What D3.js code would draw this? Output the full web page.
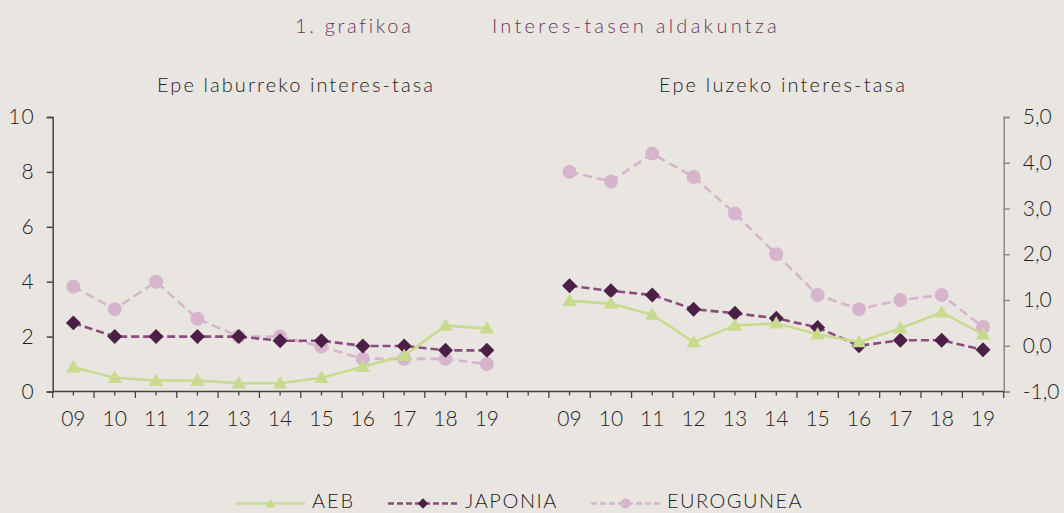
<!DOCTYPE html>
<html>
<head>
<meta charset="utf-8">
<style>
  body { margin: 0; background: #e9e6e1; }
  text { font-family: Lato, "Open Sans", sans-serif; font-weight: 300; fill: #222; }
</style>
<script src="https://cdn.jsdelivr.net/npm/d3@7"></script>
</head>
<body>
<svg id="chart"></svg>
<script>
let width = 1064, height = 513

// data
let years = ['09','10','11','12','13','14','15','16','17','18','19']
// short term (left axis)
let shortAEB = [0.88, 0.5, 0.4, 0.4, 0.3, 0.3, 0.5, 0.9, 1.3, 2.4, 2.3]
let shortJAP = [2.5, 2.0, 2.0, 2.0, 2.0, 1.85, 1.85, 1.66, 1.66, 1.5, 1.5]
let shortEUR = [3.82, 3.0, 4.0, 2.65, 2.0, 2.0, 1.64, 1.19, 1.19, 1.19, 1.0]
// long term (right axis)
let longAEB = [0.98, 0.92, 0.68, 0.08, 0.44, 0.49, 0.25, 0.08, 0.38, 0.73, 0.25]
let longJAP = [1.31, 1.2, 1.11, 0.8, 0.71, 0.6, 0.4, 0.0, 0.12, 0.12, -0.09]
let longEUR = [3.8, 3.59, 4.2, 3.69, 2.89, 2.0, 1.11, 0.8, 1.0, 1.11, 0.41]
let leftTicks = [0, 2, 4, 6, 8, 10]
let rightTicks = [-1, 0, 1, 2, 3, 4, 5]

let colors = { AEB: '#c8da8e', JAPONIA: '#8c4b7e', EUROGUNEA: '#d6b4cc' }
let markerColors = { AEB: '#c8da8e', JAPONIA: '#4b1f46', EUROGUNEA: '#d6b4cc' }

let svg = d3.select('#chart').attr('width', width).attr('height', height)

let x0 = 52.7, x1 = 1003.7, yTop = 117, yBot = 391.5

let yLeft = d3.scaleLinear().domain([0, 10]).range([yBot, yTop])
let yRight = d3.scaleLinear().domain([-1, 5]).range([yBot, yTop])
// one category axis: left years, one empty slot, right years
let slots = years.map(y => 'L' + y).concat(['gap']).concat(years.map(y => 'R' + y))
let xBand = d3.scaleBand().domain(slots).range([x0, x1])
let xLeft = y => xBand('L' + y) + xBand.bandwidth() / 2
let xRight = y => xBand('R' + y) + xBand.bandwidth() / 2

// stretch a text to a given width with letter spacing
function fit(sel, w) {
  let n = sel.text().length
  let len = sel.node().getComputedTextLength()
  sel.style('letter-spacing', ((w - len) / n) + 'px')
  return sel
}

// titles
fit(svg.append('text').attr('x', 295).attr('y', 32.7)
   .style('font-size', '20px').style('fill', '#6b3560').text('1. grafikoa'), 118)
fit(svg.append('text').attr('x', 492).attr('y', 32.7)
   .style('font-size', '20px').style('fill', '#6b3560').text('Interes-tasen aldakuntza'), 288)
fit(svg.append('text').attr('x', 157).attr('y', 92)
   .style('font-size', '20px').text('Epe laburreko interes-tasa'), 278)
fit(svg.append('text').attr('x', 659).attr('y', 92)
   .style('font-size', '20px').text('Epe luzeko interes-tasa'), 248)

// left axis
let leftAxis = svg.append('g').attr('transform', 'translate(' + x0 + ',0)')
  .call(d3.axisLeft(yLeft).tickValues(leftTicks).tickSize(6).tickPadding(12).tickFormat(d3.format('d')))
leftAxis.select('.domain').attr('stroke', '#444').attr('stroke-width', 1.5)
leftAxis.selectAll('line').attr('stroke', '#444').attr('stroke-width', 1.5)
leftAxis.selectAll('text').style('font-size', '21px').style('font-family', 'Lato, sans-serif')
  .style('letter-spacing', '1px').attr('fill', '#222')

// right axis
let rightAxis = svg.append('g').attr('transform', 'translate(' + x1 + ',0)')
  .call(d3.axisRight(yRight).tickValues(rightTicks).tickSize(6).tickPadding(13)
    .tickFormat(d => d3.format('.1f')(d).replace('.', ',').replace('−', '-')))
rightAxis.select('.domain').attr('stroke', '#8a8a8a').attr('stroke-width', 1.5)
rightAxis.selectAll('line').attr('stroke', '#8a8a8a').attr('stroke-width', 1.5)
rightAxis.selectAll('text').style('font-size', '21px').style('font-family', 'Lato, sans-serif').attr('fill', '#222')

// x axis line with half-category ticks
let xTickScale = d3.scaleLinear().domain([0, slots.length * 2]).range([x0, x1])
let xAxis = svg.append('g')
xAxis.append('line').attr('x1', x0).attr('x2', x1).attr('y1', yBot).attr('y2', yBot)
  .attr('stroke', '#444').attr('stroke-width', 1.5)
xAxis.selectAll('.tk').data(d3.range(0, slots.length * 2 + 1)).enter().append('line')
  .attr('x1', d => xTickScale(d)).attr('x2', d => xTickScale(d))
  .attr('y1', yBot).attr('y2', d => yBot + (d % 2 == 0 ? 6.5 : 4))
  .attr('stroke', '#444').attr('stroke-width', 1.3)

function yearLabels(xs) {
  svg.append('g').selectAll('text').data(years).enter().append('text')
    .attr('x', d => xs(d)).attr('y', 425.5).attr('text-anchor', 'middle')
    .style('font-size', '21px').text(d => d)
}
yearLabels(xLeft)
yearLabels(xRight)

function marker(g, name, cx, cy, s) {
  if (name == 'AEB') {
    g.append('path').attr('d', d3.symbol(d3.symbolTriangle, 90 * s * s)())
     .attr('transform', 'translate(' + cx + ',' + (cy + 1) + ')').attr('fill', markerColors[name])
  } else if (name == 'JAPONIA') {
    let h = 5.3 * s
    g.append('rect').attr('x', -h).attr('y', -h).attr('width', 2 * h).attr('height', 2 * h)
     .attr('transform', 'translate(' + cx + ',' + cy + ') rotate(45)').attr('fill', markerColors[name])
  } else {
    g.append('circle').attr('cx', cx).attr('cy', cy).attr('r', 7 * s).attr('fill', markerColors[name])
  }
}

function drawSeries(name, values, xs, ys) {
  let line = d3.line().x((d, i) => xs(years[i])).y(d => ys(d))
  let g = svg.append('g')
  g.append('path').datum(values).attr('d', line).attr('fill', 'none')
    .attr('stroke', colors[name]).attr('stroke-width', 2.6)
    .attr('stroke-dasharray', name == 'AEB' ? null : (name == 'JAPONIA' ? '8,4' : '9,5'))
  values.forEach((v, i) => marker(g, name, xs(years[i]), ys(v), 1))
}

let shortData = { AEB: shortAEB, JAPONIA: shortJAP, EUROGUNEA: shortEUR }
let longData = { AEB: longAEB, JAPONIA: longJAP, EUROGUNEA: longEUR }
;['EUROGUNEA', 'JAPONIA', 'AEB'].forEach(n => {
  drawSeries(n, shortData[n], xLeft, yLeft)
  drawSeries(n, longData[n], xRight, yRight)
})

// legend
let legendItems = [
  { name: 'AEB', x: 236, w: 69, tw: 43 },
  { name: 'JAPONIA', x: 388, w: 70, tw: 93 },
  { name: 'EUROGUNEA', x: 591, w: 69, tw: 136 }
]
legendItems.forEach(it => {
  let g = svg.append('g')
  g.append('line').attr('x1', it.x).attr('x2', it.x + it.w).attr('y1', 503.5).attr('y2', 503.5)
    .attr('stroke', colors[it.name]).attr('stroke-width', 2.5)
    .attr('stroke-dasharray', it.name == 'AEB' ? null : '6,3')
  marker(g, it.name, it.x + it.w / 2, 503.5, 0.7)
  fit(g.append('text').attr('x', it.x + it.w + 7).attr('y', 508).style('font-size', '20px').text(it.name), it.tw)
})
</script>
</body>
</html>
